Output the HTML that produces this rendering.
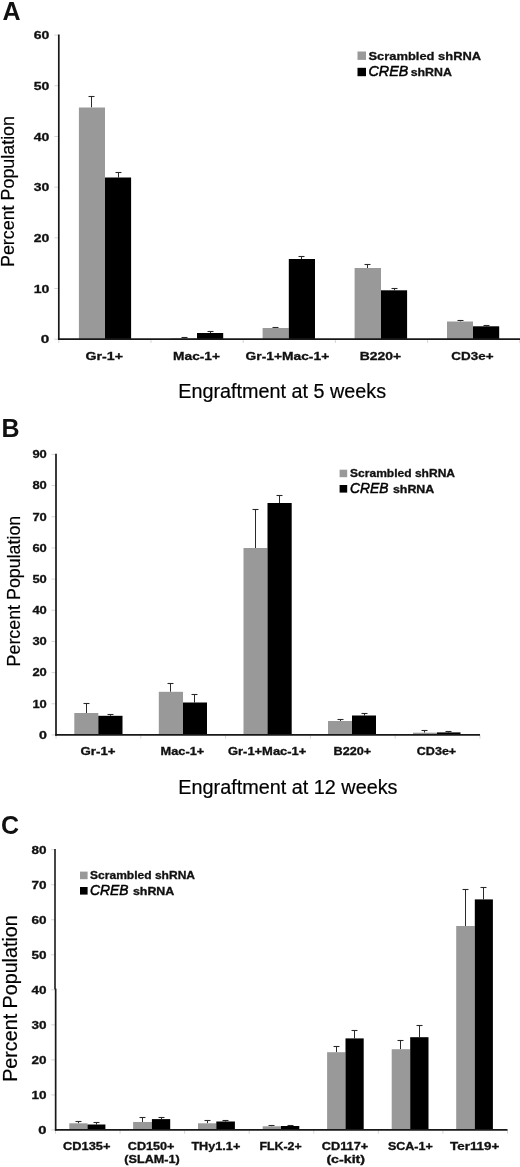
<!DOCTYPE html>
<html><head><meta charset="utf-8"><title>Engraftment</title>
<style>html,body{margin:0;padding:0;background:#fff;}svg{display:block;will-change:transform;filter:grayscale(1);font-family:"Liberation Sans",sans-serif;}</style></head>
<body>
<svg width="520" height="1167" viewBox="0 0 520 1167">
<rect x="0" y="0" width="520" height="1167" fill="#ffffff"/>
<line x1="54.30" y1="339.20" x2="58.80" y2="339.20" stroke="#d6d6d6" stroke-width="1"/>
<line x1="54.30" y1="288.52" x2="58.80" y2="288.52" stroke="#d6d6d6" stroke-width="1"/>
<line x1="54.30" y1="237.83" x2="58.80" y2="237.83" stroke="#d6d6d6" stroke-width="1"/>
<line x1="54.30" y1="187.15" x2="58.80" y2="187.15" stroke="#d6d6d6" stroke-width="1"/>
<line x1="54.30" y1="136.47" x2="58.80" y2="136.47" stroke="#d6d6d6" stroke-width="1"/>
<line x1="54.30" y1="85.78" x2="58.80" y2="85.78" stroke="#d6d6d6" stroke-width="1"/>
<line x1="54.30" y1="35.10" x2="58.80" y2="35.10" stroke="#d6d6d6" stroke-width="1"/>
<line x1="58.80" y1="339.20" x2="58.80" y2="343.00" stroke="#d6d6d6" stroke-width="1"/>
<line x1="151.00" y1="339.20" x2="151.00" y2="343.00" stroke="#d6d6d6" stroke-width="1"/>
<line x1="243.20" y1="339.20" x2="243.20" y2="343.00" stroke="#d6d6d6" stroke-width="1"/>
<line x1="335.40" y1="339.20" x2="335.40" y2="343.00" stroke="#d6d6d6" stroke-width="1"/>
<line x1="427.60" y1="339.20" x2="427.60" y2="343.00" stroke="#d6d6d6" stroke-width="1"/>
<line x1="519.80" y1="339.20" x2="519.80" y2="343.00" stroke="#d6d6d6" stroke-width="1"/>
<line x1="91.50" y1="96.50" x2="91.50" y2="107.50" stroke="#2a2a2a" stroke-width="1.0"/>
<line x1="88.50" y1="96.50" x2="94.50" y2="96.50" stroke="#2a2a2a" stroke-width="1.1"/>
<line x1="118.50" y1="172.50" x2="118.50" y2="177.50" stroke="#2a2a2a" stroke-width="1.0"/>
<line x1="115.50" y1="172.50" x2="121.50" y2="172.50" stroke="#2a2a2a" stroke-width="1.1"/>
<rect x="78.90" y="107.50" width="26.10" height="231.70" fill="#999999"/>
<rect x="105.00" y="177.50" width="26.10" height="161.70" fill="#000000"/>
<line x1="184.50" y1="337.50" x2="184.50" y2="338.40" stroke="#2a2a2a" stroke-width="1.0"/>
<line x1="181.50" y1="337.50" x2="187.50" y2="337.50" stroke="#2a2a2a" stroke-width="1.1"/>
<line x1="210.50" y1="331.50" x2="210.50" y2="333.00" stroke="#2a2a2a" stroke-width="1.0"/>
<line x1="207.50" y1="331.50" x2="213.50" y2="331.50" stroke="#2a2a2a" stroke-width="1.1"/>
<rect x="171.00" y="338.40" width="26.00" height="0.80" fill="#999999"/>
<rect x="197.00" y="333.00" width="26.20" height="6.20" fill="#000000"/>
<line x1="275.50" y1="327.50" x2="275.50" y2="328.00" stroke="#2a2a2a" stroke-width="1.0"/>
<line x1="272.50" y1="327.50" x2="278.50" y2="327.50" stroke="#2a2a2a" stroke-width="1.1"/>
<line x1="301.50" y1="256.50" x2="301.50" y2="259.00" stroke="#2a2a2a" stroke-width="1.0"/>
<line x1="298.50" y1="256.50" x2="304.50" y2="256.50" stroke="#2a2a2a" stroke-width="1.1"/>
<rect x="262.60" y="328.00" width="26.20" height="11.20" fill="#999999"/>
<rect x="288.80" y="259.00" width="26.20" height="80.20" fill="#000000"/>
<line x1="367.50" y1="264.50" x2="367.50" y2="268.00" stroke="#2a2a2a" stroke-width="1.0"/>
<line x1="364.50" y1="264.50" x2="370.50" y2="264.50" stroke="#2a2a2a" stroke-width="1.1"/>
<line x1="394.50" y1="288.50" x2="394.50" y2="290.30" stroke="#2a2a2a" stroke-width="1.0"/>
<line x1="391.50" y1="288.50" x2="397.50" y2="288.50" stroke="#2a2a2a" stroke-width="1.1"/>
<rect x="354.60" y="268.00" width="26.40" height="71.20" fill="#999999"/>
<rect x="381.00" y="290.30" width="26.10" height="48.90" fill="#000000"/>
<line x1="460.50" y1="320.50" x2="460.50" y2="321.50" stroke="#2a2a2a" stroke-width="1.0"/>
<line x1="457.50" y1="320.50" x2="463.50" y2="320.50" stroke="#2a2a2a" stroke-width="1.1"/>
<line x1="486.50" y1="325.50" x2="486.50" y2="326.30" stroke="#2a2a2a" stroke-width="1.0"/>
<line x1="483.50" y1="325.50" x2="489.50" y2="325.50" stroke="#2a2a2a" stroke-width="1.1"/>
<rect x="447.00" y="321.50" width="26.00" height="17.70" fill="#999999"/>
<rect x="473.00" y="326.30" width="26.20" height="12.90" fill="#000000"/>
<line x1="58.80" y1="34.50" x2="58.80" y2="339.90" stroke="#181818" stroke-width="1.7"/>
<line x1="58.10" y1="339.20" x2="520.00" y2="339.20" stroke="#181818" stroke-width="1.7"/>
<text x="40.80" y="343.30" font-size="10.9" font-weight="bold" stroke="#111" stroke-width="0.3" font-style="normal" textLength="8.50" lengthAdjust="spacingAndGlyphs" fill="#111">0</text>
<text x="33.70" y="292.62" font-size="10.9" font-weight="bold" stroke="#111" stroke-width="0.3" font-style="normal" textLength="15.60" lengthAdjust="spacingAndGlyphs" fill="#111">10</text>
<text x="33.70" y="241.93" font-size="10.9" font-weight="bold" stroke="#111" stroke-width="0.3" font-style="normal" textLength="15.60" lengthAdjust="spacingAndGlyphs" fill="#111">20</text>
<text x="33.70" y="191.25" font-size="10.9" font-weight="bold" stroke="#111" stroke-width="0.3" font-style="normal" textLength="15.60" lengthAdjust="spacingAndGlyphs" fill="#111">30</text>
<text x="33.70" y="140.57" font-size="10.9" font-weight="bold" stroke="#111" stroke-width="0.3" font-style="normal" textLength="15.60" lengthAdjust="spacingAndGlyphs" fill="#111">40</text>
<text x="33.70" y="89.88" font-size="10.9" font-weight="bold" stroke="#111" stroke-width="0.3" font-style="normal" textLength="15.60" lengthAdjust="spacingAndGlyphs" fill="#111">50</text>
<text x="33.70" y="39.20" font-size="10.9" font-weight="bold" stroke="#111" stroke-width="0.3" font-style="normal" textLength="15.60" lengthAdjust="spacingAndGlyphs" fill="#111">60</text>
<text x="85.60" y="360.30" font-size="10.9" font-weight="bold" stroke="#111" stroke-width="0.3" font-style="normal" textLength="37.40" lengthAdjust="spacingAndGlyphs" fill="#111">Gr-1+</text>
<text x="173.10" y="360.30" font-size="10.9" font-weight="bold" stroke="#111" stroke-width="0.3" font-style="normal" textLength="46.90" lengthAdjust="spacingAndGlyphs" fill="#111">Mac-1+</text>
<text x="245.60" y="360.30" font-size="10.9" font-weight="bold" stroke="#111" stroke-width="0.3" font-style="normal" textLength="83.60" lengthAdjust="spacingAndGlyphs" fill="#111">Gr-1+Mac-1+</text>
<text x="359.80" y="360.30" font-size="10.9" font-weight="bold" stroke="#111" stroke-width="0.3" font-style="normal" textLength="41.40" lengthAdjust="spacingAndGlyphs" fill="#111">B220+</text>
<text x="451.30" y="360.30" font-size="10.9" font-weight="bold" stroke="#111" stroke-width="0.3" font-style="normal" textLength="42.20" lengthAdjust="spacingAndGlyphs" fill="#111">CD3e+</text>
<rect x="357.50" y="51.50" width="8.50" height="8.40" fill="#999999"/>
<rect x="357.50" y="67.80" width="8.50" height="8.40" fill="#000000"/>
<text x="368.50" y="59.80" font-size="11.4" font-weight="bold" stroke="#111" stroke-width="0.3" font-style="normal" textLength="112.60" lengthAdjust="spacingAndGlyphs" fill="#111">Scrambled shRNA</text>
<text x="368.50" y="76.30" font-size="14.0" font-weight="normal" stroke="#000" stroke-width="0.5" font-style="italic" textLength="39.70" lengthAdjust="spacingAndGlyphs" fill="#000">CREB</text>
<text x="410.70" y="76.30" font-size="11.4" font-weight="bold" stroke="#111" stroke-width="0.3" font-style="normal" textLength="41.20" lengthAdjust="spacingAndGlyphs" fill="#111">shRNA</text>
<text transform="translate(13.80,267.00) rotate(-90)" x="0" y="0" font-size="17.5" stroke="#000" stroke-width="0.2" textLength="151.00" lengthAdjust="spacingAndGlyphs" fill="#000">Percent Population</text>
<text x="178.30" y="398.00" font-size="19.3" font-weight="normal" stroke="#000" stroke-width="0.2" font-style="normal" textLength="207.80" lengthAdjust="spacingAndGlyphs" fill="#000">Engraftment at 5 weeks</text>
<text x="2.4" y="19.7" font-size="25" font-weight="bold" fill="#111">A</text>
<line x1="51.50" y1="734.95" x2="56.00" y2="734.95" stroke="#d6d6d6" stroke-width="1"/>
<line x1="51.50" y1="703.78" x2="56.00" y2="703.78" stroke="#d6d6d6" stroke-width="1"/>
<line x1="51.50" y1="672.61" x2="56.00" y2="672.61" stroke="#d6d6d6" stroke-width="1"/>
<line x1="51.50" y1="641.43" x2="56.00" y2="641.43" stroke="#d6d6d6" stroke-width="1"/>
<line x1="51.50" y1="610.26" x2="56.00" y2="610.26" stroke="#d6d6d6" stroke-width="1"/>
<line x1="51.50" y1="579.09" x2="56.00" y2="579.09" stroke="#d6d6d6" stroke-width="1"/>
<line x1="51.50" y1="547.92" x2="56.00" y2="547.92" stroke="#d6d6d6" stroke-width="1"/>
<line x1="51.50" y1="516.74" x2="56.00" y2="516.74" stroke="#d6d6d6" stroke-width="1"/>
<line x1="51.50" y1="485.57" x2="56.00" y2="485.57" stroke="#d6d6d6" stroke-width="1"/>
<line x1="51.50" y1="454.40" x2="56.00" y2="454.40" stroke="#d6d6d6" stroke-width="1"/>
<line x1="56.00" y1="734.95" x2="56.00" y2="738.75" stroke="#d6d6d6" stroke-width="1"/>
<line x1="140.80" y1="734.95" x2="140.80" y2="738.75" stroke="#d6d6d6" stroke-width="1"/>
<line x1="225.60" y1="734.95" x2="225.60" y2="738.75" stroke="#d6d6d6" stroke-width="1"/>
<line x1="310.40" y1="734.95" x2="310.40" y2="738.75" stroke="#d6d6d6" stroke-width="1"/>
<line x1="395.20" y1="734.95" x2="395.20" y2="738.75" stroke="#d6d6d6" stroke-width="1"/>
<line x1="480.00" y1="734.95" x2="480.00" y2="738.75" stroke="#d6d6d6" stroke-width="1"/>
<line x1="86.50" y1="703.50" x2="86.50" y2="713.00" stroke="#2a2a2a" stroke-width="1.0"/>
<line x1="83.50" y1="703.50" x2="89.50" y2="703.50" stroke="#2a2a2a" stroke-width="1.1"/>
<line x1="110.50" y1="714.50" x2="110.50" y2="715.80" stroke="#2a2a2a" stroke-width="1.0"/>
<line x1="107.50" y1="714.50" x2="113.50" y2="714.50" stroke="#2a2a2a" stroke-width="1.1"/>
<rect x="74.30" y="713.00" width="24.00" height="21.95" fill="#999999"/>
<rect x="98.30" y="715.80" width="24.20" height="19.15" fill="#000000"/>
<line x1="170.50" y1="683.50" x2="170.50" y2="691.80" stroke="#2a2a2a" stroke-width="1.0"/>
<line x1="167.50" y1="683.50" x2="173.50" y2="683.50" stroke="#2a2a2a" stroke-width="1.1"/>
<line x1="194.50" y1="694.50" x2="194.50" y2="702.50" stroke="#2a2a2a" stroke-width="1.0"/>
<line x1="191.50" y1="694.50" x2="197.50" y2="694.50" stroke="#2a2a2a" stroke-width="1.1"/>
<rect x="158.80" y="691.80" width="24.20" height="43.15" fill="#999999"/>
<rect x="183.00" y="702.50" width="24.00" height="32.45" fill="#000000"/>
<line x1="255.50" y1="509.50" x2="255.50" y2="548.00" stroke="#2a2a2a" stroke-width="1.0"/>
<line x1="252.50" y1="509.50" x2="258.50" y2="509.50" stroke="#2a2a2a" stroke-width="1.1"/>
<line x1="279.50" y1="495.50" x2="279.50" y2="503.00" stroke="#2a2a2a" stroke-width="1.0"/>
<line x1="276.50" y1="495.50" x2="282.50" y2="495.50" stroke="#2a2a2a" stroke-width="1.1"/>
<rect x="243.50" y="548.00" width="24.00" height="186.95" fill="#999999"/>
<rect x="267.50" y="503.00" width="24.20" height="231.95" fill="#000000"/>
<line x1="340.50" y1="719.50" x2="340.50" y2="721.00" stroke="#2a2a2a" stroke-width="1.0"/>
<line x1="337.50" y1="719.50" x2="343.50" y2="719.50" stroke="#2a2a2a" stroke-width="1.1"/>
<line x1="364.50" y1="713.50" x2="364.50" y2="715.50" stroke="#2a2a2a" stroke-width="1.0"/>
<line x1="361.50" y1="713.50" x2="367.50" y2="713.50" stroke="#2a2a2a" stroke-width="1.1"/>
<rect x="328.00" y="721.00" width="24.00" height="13.95" fill="#999999"/>
<rect x="352.00" y="715.50" width="24.00" height="19.45" fill="#000000"/>
<line x1="424.50" y1="730.50" x2="424.50" y2="732.70" stroke="#2a2a2a" stroke-width="1.0"/>
<line x1="421.50" y1="730.50" x2="427.50" y2="730.50" stroke="#2a2a2a" stroke-width="1.1"/>
<line x1="448.50" y1="731.50" x2="448.50" y2="732.40" stroke="#2a2a2a" stroke-width="1.0"/>
<line x1="445.50" y1="731.50" x2="451.50" y2="731.50" stroke="#2a2a2a" stroke-width="1.1"/>
<rect x="413.00" y="732.70" width="24.00" height="2.25" fill="#999999"/>
<rect x="437.00" y="732.40" width="23.50" height="2.55" fill="#000000"/>
<line x1="56.00" y1="453.80" x2="56.00" y2="735.65" stroke="#181818" stroke-width="1.7"/>
<line x1="55.30" y1="734.95" x2="480.00" y2="734.95" stroke="#181818" stroke-width="1.7"/>
<text x="38.90" y="738.75" font-size="10.5" font-weight="bold" stroke="#111" stroke-width="0.3" font-style="normal" textLength="7.90" lengthAdjust="spacingAndGlyphs" fill="#111">0</text>
<text x="32.40" y="707.58" font-size="10.5" font-weight="bold" stroke="#111" stroke-width="0.3" font-style="normal" textLength="14.40" lengthAdjust="spacingAndGlyphs" fill="#111">10</text>
<text x="32.40" y="676.41" font-size="10.5" font-weight="bold" stroke="#111" stroke-width="0.3" font-style="normal" textLength="14.40" lengthAdjust="spacingAndGlyphs" fill="#111">20</text>
<text x="32.40" y="645.23" font-size="10.5" font-weight="bold" stroke="#111" stroke-width="0.3" font-style="normal" textLength="14.40" lengthAdjust="spacingAndGlyphs" fill="#111">30</text>
<text x="32.40" y="614.06" font-size="10.5" font-weight="bold" stroke="#111" stroke-width="0.3" font-style="normal" textLength="14.40" lengthAdjust="spacingAndGlyphs" fill="#111">40</text>
<text x="32.40" y="582.89" font-size="10.5" font-weight="bold" stroke="#111" stroke-width="0.3" font-style="normal" textLength="14.40" lengthAdjust="spacingAndGlyphs" fill="#111">50</text>
<text x="32.40" y="551.72" font-size="10.5" font-weight="bold" stroke="#111" stroke-width="0.3" font-style="normal" textLength="14.40" lengthAdjust="spacingAndGlyphs" fill="#111">60</text>
<text x="32.40" y="520.54" font-size="10.5" font-weight="bold" stroke="#111" stroke-width="0.3" font-style="normal" textLength="14.40" lengthAdjust="spacingAndGlyphs" fill="#111">70</text>
<text x="32.40" y="489.37" font-size="10.5" font-weight="bold" stroke="#111" stroke-width="0.3" font-style="normal" textLength="14.40" lengthAdjust="spacingAndGlyphs" fill="#111">80</text>
<text x="32.40" y="458.20" font-size="10.5" font-weight="bold" stroke="#111" stroke-width="0.3" font-style="normal" textLength="14.40" lengthAdjust="spacingAndGlyphs" fill="#111">90</text>
<text x="80.60" y="754.80" font-size="10.1" font-weight="bold" stroke="#111" stroke-width="0.3" font-style="normal" textLength="34.90" lengthAdjust="spacingAndGlyphs" fill="#111">Gr-1+</text>
<text x="160.60" y="754.80" font-size="10.1" font-weight="bold" stroke="#111" stroke-width="0.3" font-style="normal" textLength="43.60" lengthAdjust="spacingAndGlyphs" fill="#111">Mac-1+</text>
<text x="228.00" y="754.80" font-size="10.1" font-weight="bold" stroke="#111" stroke-width="0.3" font-style="normal" textLength="78.30" lengthAdjust="spacingAndGlyphs" fill="#111">Gr-1+Mac-1+</text>
<text x="333.50" y="754.80" font-size="10.1" font-weight="bold" stroke="#111" stroke-width="0.3" font-style="normal" textLength="37.60" lengthAdjust="spacingAndGlyphs" fill="#111">B220+</text>
<text x="416.80" y="754.80" font-size="10.1" font-weight="bold" stroke="#111" stroke-width="0.3" font-style="normal" textLength="39.40" lengthAdjust="spacingAndGlyphs" fill="#111">CD3e+</text>
<rect x="339.60" y="469.70" width="7.60" height="7.50" fill="#999999"/>
<rect x="339.60" y="485.00" width="7.60" height="7.60" fill="#000000"/>
<text x="350.10" y="477.10" font-size="10.5" font-weight="bold" stroke="#111" stroke-width="0.3" font-style="normal" textLength="104.90" lengthAdjust="spacingAndGlyphs" fill="#111">Scrambled shRNA</text>
<text x="350.10" y="492.70" font-size="14.2" font-weight="normal" stroke="#000" stroke-width="0.5" font-style="italic" textLength="38.50" lengthAdjust="spacingAndGlyphs" fill="#000">CREB</text>
<text x="392.90" y="492.70" font-size="10.5" font-weight="bold" stroke="#111" stroke-width="0.3" font-style="normal" textLength="41.40" lengthAdjust="spacingAndGlyphs" fill="#111">shRNA</text>
<text transform="translate(20.20,666.40) rotate(-90)" x="0" y="0" font-size="17.5" stroke="#000" stroke-width="0.2" textLength="150.70" lengthAdjust="spacingAndGlyphs" fill="#000">Percent Population</text>
<text x="178.30" y="793.50" font-size="19.3" font-weight="normal" stroke="#000" stroke-width="0.2" font-style="normal" textLength="219.20" lengthAdjust="spacingAndGlyphs" fill="#000">Engraftment at 12 weeks</text>
<text x="1.4" y="437.1" font-size="25" font-weight="bold" fill="#111">B</text>
<line x1="51.15" y1="1129.95" x2="55.65" y2="1129.95" stroke="#d6d6d6" stroke-width="1"/>
<line x1="51.15" y1="1094.92" x2="55.65" y2="1094.92" stroke="#d6d6d6" stroke-width="1"/>
<line x1="51.15" y1="1059.89" x2="55.65" y2="1059.89" stroke="#d6d6d6" stroke-width="1"/>
<line x1="51.15" y1="1024.86" x2="55.65" y2="1024.86" stroke="#d6d6d6" stroke-width="1"/>
<line x1="51.15" y1="989.83" x2="55.65" y2="989.83" stroke="#d6d6d6" stroke-width="1"/>
<line x1="51.15" y1="954.79" x2="55.65" y2="954.79" stroke="#d6d6d6" stroke-width="1"/>
<line x1="51.15" y1="919.76" x2="55.65" y2="919.76" stroke="#d6d6d6" stroke-width="1"/>
<line x1="51.15" y1="884.73" x2="55.65" y2="884.73" stroke="#d6d6d6" stroke-width="1"/>
<line x1="51.15" y1="849.70" x2="55.65" y2="849.70" stroke="#d6d6d6" stroke-width="1"/>
<line x1="55.50" y1="1129.95" x2="55.50" y2="1133.75" stroke="#d6d6d6" stroke-width="1"/>
<line x1="120.07" y1="1129.95" x2="120.07" y2="1133.75" stroke="#d6d6d6" stroke-width="1"/>
<line x1="184.64" y1="1129.95" x2="184.64" y2="1133.75" stroke="#d6d6d6" stroke-width="1"/>
<line x1="249.21" y1="1129.95" x2="249.21" y2="1133.75" stroke="#d6d6d6" stroke-width="1"/>
<line x1="313.78" y1="1129.95" x2="313.78" y2="1133.75" stroke="#d6d6d6" stroke-width="1"/>
<line x1="378.35" y1="1129.95" x2="378.35" y2="1133.75" stroke="#d6d6d6" stroke-width="1"/>
<line x1="442.92" y1="1129.95" x2="442.92" y2="1133.75" stroke="#d6d6d6" stroke-width="1"/>
<line x1="507.49" y1="1129.95" x2="507.49" y2="1133.75" stroke="#d6d6d6" stroke-width="1"/>
<line x1="78.50" y1="1121.50" x2="78.50" y2="1123.30" stroke="#2a2a2a" stroke-width="1.0"/>
<line x1="75.50" y1="1121.50" x2="81.50" y2="1121.50" stroke="#2a2a2a" stroke-width="1.1"/>
<line x1="96.50" y1="1122.50" x2="96.50" y2="1124.50" stroke="#2a2a2a" stroke-width="1.0"/>
<line x1="93.50" y1="1122.50" x2="99.50" y2="1122.50" stroke="#2a2a2a" stroke-width="1.1"/>
<rect x="69.30" y="1123.30" width="18.20" height="6.65" fill="#999999"/>
<rect x="87.50" y="1124.50" width="17.90" height="5.45" fill="#000000"/>
<line x1="142.50" y1="1117.50" x2="142.50" y2="1122.00" stroke="#2a2a2a" stroke-width="1.0"/>
<line x1="139.50" y1="1117.50" x2="145.50" y2="1117.50" stroke="#2a2a2a" stroke-width="1.1"/>
<line x1="161.50" y1="1117.50" x2="161.50" y2="1119.10" stroke="#2a2a2a" stroke-width="1.0"/>
<line x1="158.50" y1="1117.50" x2="164.50" y2="1117.50" stroke="#2a2a2a" stroke-width="1.1"/>
<rect x="133.10" y="1122.00" width="18.80" height="7.95" fill="#999999"/>
<rect x="151.90" y="1119.10" width="18.30" height="10.85" fill="#000000"/>
<line x1="207.50" y1="1120.50" x2="207.50" y2="1123.30" stroke="#2a2a2a" stroke-width="1.0"/>
<line x1="204.50" y1="1120.50" x2="210.50" y2="1120.50" stroke="#2a2a2a" stroke-width="1.1"/>
<line x1="225.50" y1="1120.50" x2="225.50" y2="1121.50" stroke="#2a2a2a" stroke-width="1.0"/>
<line x1="222.50" y1="1120.50" x2="228.50" y2="1120.50" stroke="#2a2a2a" stroke-width="1.1"/>
<rect x="198.00" y="1123.30" width="18.30" height="6.65" fill="#999999"/>
<rect x="216.30" y="1121.50" width="18.60" height="8.45" fill="#000000"/>
<line x1="271.50" y1="1125.50" x2="271.50" y2="1126.30" stroke="#2a2a2a" stroke-width="1.0"/>
<line x1="268.50" y1="1125.50" x2="274.50" y2="1125.50" stroke="#2a2a2a" stroke-width="1.1"/>
<line x1="290.50" y1="1125.50" x2="290.50" y2="1126.00" stroke="#2a2a2a" stroke-width="1.0"/>
<line x1="287.50" y1="1125.50" x2="293.50" y2="1125.50" stroke="#2a2a2a" stroke-width="1.1"/>
<rect x="262.70" y="1126.30" width="18.30" height="3.65" fill="#999999"/>
<rect x="281.00" y="1126.00" width="18.30" height="3.95" fill="#000000"/>
<line x1="336.50" y1="1046.50" x2="336.50" y2="1052.20" stroke="#2a2a2a" stroke-width="1.0"/>
<line x1="333.50" y1="1046.50" x2="339.50" y2="1046.50" stroke="#2a2a2a" stroke-width="1.1"/>
<line x1="354.50" y1="1030.50" x2="354.50" y2="1038.40" stroke="#2a2a2a" stroke-width="1.0"/>
<line x1="351.50" y1="1030.50" x2="357.50" y2="1030.50" stroke="#2a2a2a" stroke-width="1.1"/>
<rect x="327.10" y="1052.20" width="18.40" height="77.75" fill="#999999"/>
<rect x="345.50" y="1038.40" width="18.20" height="91.55" fill="#000000"/>
<line x1="400.50" y1="1040.50" x2="400.50" y2="1049.20" stroke="#2a2a2a" stroke-width="1.0"/>
<line x1="397.50" y1="1040.50" x2="403.50" y2="1040.50" stroke="#2a2a2a" stroke-width="1.1"/>
<line x1="419.50" y1="1025.50" x2="419.50" y2="1037.20" stroke="#2a2a2a" stroke-width="1.0"/>
<line x1="416.50" y1="1025.50" x2="422.50" y2="1025.50" stroke="#2a2a2a" stroke-width="1.1"/>
<rect x="391.70" y="1049.20" width="18.50" height="80.75" fill="#999999"/>
<rect x="410.20" y="1037.20" width="18.30" height="92.75" fill="#000000"/>
<line x1="465.50" y1="889.50" x2="465.50" y2="926.00" stroke="#2a2a2a" stroke-width="1.0"/>
<line x1="462.50" y1="889.50" x2="468.50" y2="889.50" stroke="#2a2a2a" stroke-width="1.1"/>
<line x1="483.50" y1="887.50" x2="483.50" y2="899.40" stroke="#2a2a2a" stroke-width="1.0"/>
<line x1="480.50" y1="887.50" x2="486.50" y2="887.50" stroke="#2a2a2a" stroke-width="1.1"/>
<rect x="456.20" y="926.00" width="18.60" height="203.95" fill="#999999"/>
<rect x="474.80" y="899.40" width="18.10" height="230.55" fill="#000000"/>
<line x1="55.00" y1="849.10" x2="55.00" y2="989.30" stroke="#262626" stroke-width="1.7"/>
<line x1="55.65" y1="988.60" x2="55.65" y2="1130.65" stroke="#181818" stroke-width="1.7"/>
<line x1="54.95" y1="1129.95" x2="507.50" y2="1129.95" stroke="#181818" stroke-width="1.7"/>
<text x="38.20" y="1134.15" font-size="10.4" font-weight="bold" stroke="#111" stroke-width="0.3" font-style="normal" textLength="8.20" lengthAdjust="spacingAndGlyphs" fill="#111">0</text>
<text x="31.40" y="1099.12" font-size="10.4" font-weight="bold" stroke="#111" stroke-width="0.3" font-style="normal" textLength="15.00" lengthAdjust="spacingAndGlyphs" fill="#111">10</text>
<text x="31.40" y="1064.09" font-size="10.4" font-weight="bold" stroke="#111" stroke-width="0.3" font-style="normal" textLength="15.00" lengthAdjust="spacingAndGlyphs" fill="#111">20</text>
<text x="31.40" y="1029.06" font-size="10.4" font-weight="bold" stroke="#111" stroke-width="0.3" font-style="normal" textLength="15.00" lengthAdjust="spacingAndGlyphs" fill="#111">30</text>
<text x="31.40" y="994.03" font-size="10.4" font-weight="bold" stroke="#111" stroke-width="0.3" font-style="normal" textLength="15.00" lengthAdjust="spacingAndGlyphs" fill="#111">40</text>
<text x="31.40" y="958.99" font-size="10.4" font-weight="bold" stroke="#111" stroke-width="0.3" font-style="normal" textLength="15.00" lengthAdjust="spacingAndGlyphs" fill="#111">50</text>
<text x="31.40" y="923.96" font-size="10.4" font-weight="bold" stroke="#111" stroke-width="0.3" font-style="normal" textLength="15.00" lengthAdjust="spacingAndGlyphs" fill="#111">60</text>
<text x="31.40" y="888.93" font-size="10.4" font-weight="bold" stroke="#111" stroke-width="0.3" font-style="normal" textLength="15.00" lengthAdjust="spacingAndGlyphs" fill="#111">70</text>
<text x="31.40" y="853.90" font-size="10.4" font-weight="bold" stroke="#111" stroke-width="0.3" font-style="normal" textLength="15.00" lengthAdjust="spacingAndGlyphs" fill="#111">80</text>
<text x="63.10" y="1149.80" font-size="10.1" font-weight="bold" stroke="#111" stroke-width="0.3" font-style="normal" textLength="47.40" lengthAdjust="spacingAndGlyphs" fill="#111">CD135+</text>
<text x="127.80" y="1149.80" font-size="10.1" font-weight="bold" stroke="#111" stroke-width="0.3" font-style="normal" textLength="46.70" lengthAdjust="spacingAndGlyphs" fill="#111">CD150+</text>
<text x="124.30" y="1163.40" font-size="10.1" font-weight="bold" stroke="#111" stroke-width="0.3" font-style="normal" textLength="55.40" lengthAdjust="spacingAndGlyphs" fill="#111">(SLAM-1)</text>
<text x="191.40" y="1149.80" font-size="10.1" font-weight="bold" stroke="#111" stroke-width="0.3" font-style="normal" textLength="48.90" lengthAdjust="spacingAndGlyphs" fill="#111">THy1.1+</text>
<text x="259.50" y="1149.80" font-size="10.1" font-weight="bold" stroke="#111" stroke-width="0.3" font-style="normal" textLength="42.20" lengthAdjust="spacingAndGlyphs" fill="#111">FLK-2+</text>
<text x="321.80" y="1149.80" font-size="10.1" font-weight="bold" stroke="#111" stroke-width="0.3" font-style="normal" textLength="46.40" lengthAdjust="spacingAndGlyphs" fill="#111">CD117+</text>
<text x="326.40" y="1163.40" font-size="10.1" font-weight="bold" stroke="#111" stroke-width="0.3" font-style="normal" textLength="38.70" lengthAdjust="spacingAndGlyphs" fill="#111">(c-kit)</text>
<text x="387.90" y="1149.80" font-size="10.1" font-weight="bold" stroke="#111" stroke-width="0.3" font-style="normal" textLength="44.90" lengthAdjust="spacingAndGlyphs" fill="#111">SCA-1+</text>
<text x="450.10" y="1149.80" font-size="10.1" font-weight="bold" stroke="#111" stroke-width="0.3" font-style="normal" textLength="49.20" lengthAdjust="spacingAndGlyphs" fill="#111">Ter119+</text>
<rect x="80.00" y="871.60" width="7.60" height="7.60" fill="#999999"/>
<rect x="80.00" y="887.00" width="7.60" height="7.60" fill="#000000"/>
<text x="90.10" y="879.20" font-size="10.5" font-weight="bold" stroke="#111" stroke-width="0.3" font-style="normal" textLength="104.90" lengthAdjust="spacingAndGlyphs" fill="#111">Scrambled shRNA</text>
<text x="90.10" y="894.70" font-size="14.2" font-weight="normal" stroke="#000" stroke-width="0.5" font-style="italic" textLength="38.50" lengthAdjust="spacingAndGlyphs" fill="#000">CREB</text>
<text x="132.90" y="894.70" font-size="10.5" font-weight="bold" stroke="#111" stroke-width="0.3" font-style="normal" textLength="41.40" lengthAdjust="spacingAndGlyphs" fill="#111">shRNA</text>
<text transform="translate(16.90,1081.80) rotate(-90)" x="0" y="0" font-size="19.4" stroke="#000" stroke-width="0.2" textLength="166.50" lengthAdjust="spacingAndGlyphs" fill="#000">Percent Population</text>
<text x="0.9" y="833.5" font-size="25" font-weight="bold" fill="#111">C</text>
</svg>
</body></html>
